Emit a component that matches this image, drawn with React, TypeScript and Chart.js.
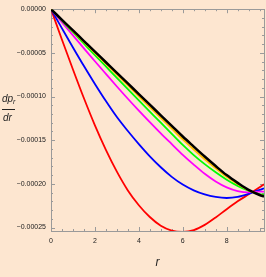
import React, { useEffect, useRef } from "react";
import { Chart, registerables } from "chart.js";

Chart.register(...registerables);

const rValues = [0, 0.5, 1, 1.5, 2, 2.5, 3, 3.5, 4, 4.5, 5, 5.5, 6, 6.5, 7, 7.5, 8, 8.5, 9, 9.5, 9.7];

const redSeries = [0, -0.35e-4, -0.69e-4, -1.02e-4, -1.33e-4, -1.61e-4, -1.86e-4, -2.075e-4, -2.245e-4, -2.38e-4, -2.48e-4, -2.535e-4, -2.55e-4, -2.53e-4, -2.47e-4, -2.385e-4, -2.29e-4, -2.20e-4, -2.12e-4, -2.04e-4, -2.005e-4];
const blueSeries = [0, -0.22e-4, -0.438e-4, -0.651e-4, -0.856e-4, -1.052e-4, -1.235e-4, -1.395e-4, -1.545e-4, -1.685e-4, -1.81e-4, -1.92e-4, -2.008e-4, -2.074e-4, -2.121e-4, -2.15e-4, -2.162e-4, -2.15e-4, -2.115e-4, -2.07e-4, -2.05e-4];
const magentaSeries = [0, -0.15e-4, -0.30e-4, -0.4485e-4, -0.596e-4, -0.741e-4, -0.885e-4, -1.0255e-4, -1.162e-4, -1.294e-4, -1.4225e-4, -1.5455e-4, -1.668e-4, -1.78e-4, -1.885e-4, -1.9725e-4, -2.04e-4, -2.0825e-4, -2.097e-4, -2.09e-4, -2.088e-4];
const greenSeries = [0, -0.132e-4, -0.264e-4, -0.395e-4, -0.526e-4, -0.656e-4, -0.786e-4, -0.915e-4, -1.044e-4, -1.172e-4, -1.30e-4, -1.427e-4, -1.554e-4, -1.6705e-4, -1.7745e-4, -1.8675e-4, -1.952e-4, -2.023e-4, -2.079e-4, -2.1185e-4, -2.124e-4];
const yellowSeries = [0, -0.125e-4, -0.25e-4, -0.375e-4, -0.50e-4, -0.6245e-4, -0.749e-4, -0.873e-4, -0.997e-4, -1.121e-4, -1.245e-4, -1.368e-4, -1.4915e-4, -1.607e-4, -1.718e-4, -1.821e-4, -1.918e-4, -2.001e-4, -2.073e-4, -2.125e-4, -2.138e-4];
const blackSeries = [0, -0.1215e-4, -0.243e-4, -0.3645e-4, -0.486e-4, -0.6075e-4, -0.729e-4, -0.8505e-4, -0.972e-4, -1.0935e-4, -1.215e-4, -1.3365e-4, -1.458e-4, -1.573e-4, -1.687e-4, -1.796e-4, -1.90e-4, -1.989e-4, -2.07e-4, -2.128e-4, -2.145e-4];

const xMajorTicks = [0, 2, 4, 6, 8];
const xMinorStep = 0.5;
const yMajorTicks = [0, -0.00005, -0.0001, -0.00015, -0.0002, -0.00025];
const yMinorStep = 0.00001;

const X_MIN = 0;
const X_MAX = 9.7;
const Y_MIN = -0.000254;
const Y_MAX = 0;

const BG = "#fde6d0";
const TICK_FONT = "'Liberation Sans', Arial, sans-serif";

const framePlugin = {
  id: "frameTicks",
  beforeDraw(chart: any) {
    const { ctx, width, height } = chart;
    ctx.save();
    ctx.fillStyle = BG;
    ctx.fillRect(0, 0, width, height);
    ctx.restore();
  },
  beforeDatasetsDraw(chart: any) {
    const { ctx, chartArea } = chart;
    const xs = chart.scales.x;
    const ys = chart.scales.y;
    const { left, right, top, bottom } = chartArea;
    ctx.save();
    ctx.strokeStyle = "#9a9a9a";
    ctx.lineWidth = 1;
    ctx.strokeRect(Math.round(left) + 0.5, Math.round(top) + 0.5, Math.round(right - left), Math.round(bottom - top));
    ctx.beginPath();
    for (let i = 0; ; i++) {
      const v = X_MIN + i * xMinorStep;
      if (v > X_MAX + 1e-9) break;
      const isMajor = xMajorTicks.some((m) => Math.abs(m - v) < 1e-9);
      const len = isMajor ? 4 : 2;
      const px = Math.round(xs.getPixelForValue(v)) + 0.5;
      ctx.moveTo(px, bottom);
      ctx.lineTo(px, bottom - len);
      ctx.moveTo(px, top);
      ctx.lineTo(px, top + len);
    }
    for (let i = 0; ; i++) {
      const v = -i * yMinorStep;
      if (v < Y_MIN - 1e-12) break;
      const isMajor = i % 5 === 0;
      const len = isMajor ? 4 : 2;
      const py = Math.round(ys.getPixelForValue(v)) + 0.5;
      ctx.moveTo(left, py);
      ctx.lineTo(left + len, py);
      ctx.moveTo(right, py);
      ctx.lineTo(right - len, py);
    }
    ctx.stroke();
    ctx.restore();
  },
  afterDraw(chart: any) {
    const { ctx, chartArea } = chart;
    ctx.save();
    ctx.fillStyle = "#222";
    ctx.textBaseline = "alphabetic";
    ctx.textAlign = "left";
    ctx.font = "italic 10px 'Liberation Sans', Arial, sans-serif";
    ctx.fillText("dp", 2, 102);
    ctx.font = "italic 7px 'Liberation Sans', Arial, sans-serif";
    ctx.fillText("r", 13, 104);
    ctx.fillRect(2, 109, 13, 1);
    ctx.font = "italic 10px 'Liberation Sans', Arial, sans-serif";
    ctx.fillText("dr", 3, 121);
    ctx.font = "italic 12px 'Liberation Sans', Arial, sans-serif";
    ctx.textAlign = "center";
    ctx.fillText("r", (chartArea.left + chartArea.right) / 2, 266);
    ctx.restore();
  },
};

function mk(label: string, data: number[], color: string, width: number, order: number) {
  return {
    label,
    data: rValues.map((r, i) => ({ x: r, y: data[i] })),
    borderColor: color,
    backgroundColor: color,
    borderWidth: width,
    pointRadius: 0,
    fill: false,
    cubicInterpolationMode: "monotone" as const,
    order,
  };
}

export default function App() {
  const ref = useRef<HTMLCanvasElement>(null);
  useEffect(() => {
    if (!ref.current) return;
    const chart = new Chart(ref.current, {
      type: "line",
      data: {
        datasets: [
          mk("black", blackSeries, "#000000", 2.5, 0),
          mk("yellow", yellowSeries, "#ffc000", 1.8, 1),
          mk("green", greenSeries, "#00ff00", 1.8, 2),
          mk("magenta", magentaSeries, "#ff00ff", 1.8, 3),
          mk("blue", blueSeries, "#0000ff", 1.8, 4),
          mk("red", redSeries, "#ff0000", 1.8, 5),
        ],
      },
      options: {
        responsive: false,
        animation: false,
        events: [],
        layout: { padding: { top: 7, right: 2, left: 0, bottom: 0 } },
        plugins: { legend: { display: false }, tooltip: { enabled: false }, title: { display: false } },
        scales: {
          x: {
            type: "linear",
            min: X_MIN,
            max: X_MAX,
            grid: { display: false, drawTicks: false },
            border: { display: false },
            afterFit: (s: any) => {
              s.height = 46;
            },
            afterBuildTicks: (s: any) => {
              s.ticks = xMajorTicks.map((v) => ({ value: v }));
            },
            ticks: {
              autoSkip: false,
              maxRotation: 0,
              padding: 6,
              color: "#222",
              font: { family: TICK_FONT, size: 7 },
              callback: (v: any) => String(v),
            },
          },
          y: {
            type: "linear",
            min: Y_MIN,
            max: Y_MAX,
            grid: { display: false, drawTicks: false },
            border: { display: false },
            afterFit: (s: any) => {
              s.width = 51;
            },
            afterBuildTicks: (s: any) => {
              s.ticks = yMajorTicks.map((v) => ({ value: v }));
            },
            ticks: {
              autoSkip: false,
              padding: 5,
              color: "#222",
              font: { family: TICK_FONT, size: 7 },
              callback: (v: any) => {
                const n = Number(v);
                if (Math.abs(n) < 1e-12) return "0.00000";
                return "\u2212" + Math.abs(n).toFixed(5);
              },
            },
          },
        },
      },
      plugins: [framePlugin],
    });
    return () => chart.destroy();
  }, []);
  return (
    <div style={{ position: "fixed", left: 0, top: 0, width: 266, height: 277, background: BG }}>
      <canvas ref={ref} width={266} height={277} style={{ display: "block" }} />
    </div>
  );
}
